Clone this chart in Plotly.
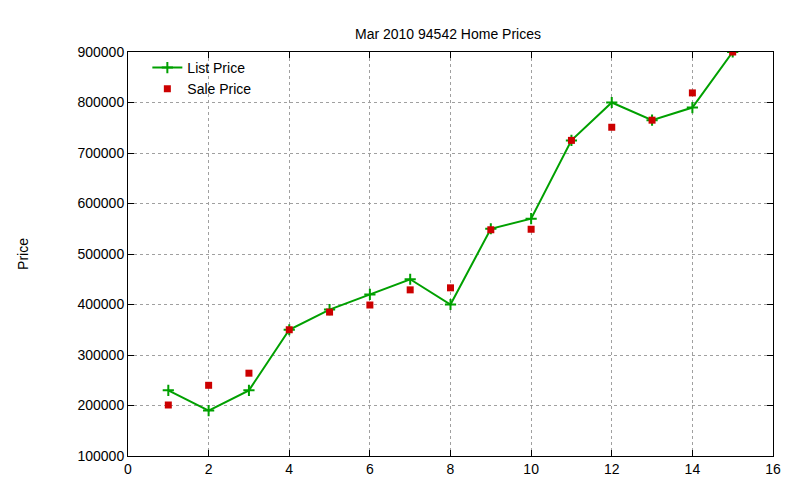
import plotly.graph_objects as go

x = list(range(1, 16))
list_price = [230000, 190000, 230000, 350000, 390000, 420000, 450000, 400000,
              550000, 570000, 725000, 800000, 765000, 790000, 900000]
sale_price = [201000, 240000, 264000, 350000, 385000, 399000, 429000, 433000,
              548000, 549000, 725000, 751000, 765000, 819000, 900000]

fig = go.Figure()
fig.add_trace(go.Scatter(x=x, y=list_price, mode="lines+markers", name="List Price",
                         line=dict(color="#00a000", width=2),
                         marker=dict(symbol="cross-thin", size=8, line=dict(color="#00a000", width=2))))
fig.add_trace(go.Scatter(x=x, y=sale_price, mode="markers", name="Sale Price",
                         marker=dict(symbol="square", size=7, color="#cc0000")))

ax = dict(showline=True, linecolor="black", linewidth=1, mirror="ticks", ticks="inside",
          ticklen=6, tickcolor="black", showgrid=True, gridcolor="#a0a0a0", griddash="dot",
          zeroline=False, tickfont=dict(size=14, color="black"), automargin=False)
fig.update_xaxes(range=[0, 16], dtick=2, **ax)
fig.update_yaxes(range=[100000, 900000], dtick=100000, tickformat="d",
                 title=dict(text="Price", font=dict(size=14), standoff=45), **ax)
fig.update_layout(
    width=800, height=480, template="plotly_white",
    font=dict(family="Liberation Sans, DejaVu Sans", color="black", size=14),
    title=dict(text="Mar 2010 94542 Home Prices", x=0.55, xanchor="center", y=0.955, font=dict(size=14)),
    margin=dict(l=120, r=35, t=44, b=32, autoexpand=False),
    plot_bgcolor="white", paper_bgcolor="white",
    legend=dict(x=0.03, y=1.0, xanchor="left", yanchor="top", bgcolor="rgba(0,0,0,0)",
                font=dict(size=14), tracegroupgap=0),
)
fig.write_html("out.html")
